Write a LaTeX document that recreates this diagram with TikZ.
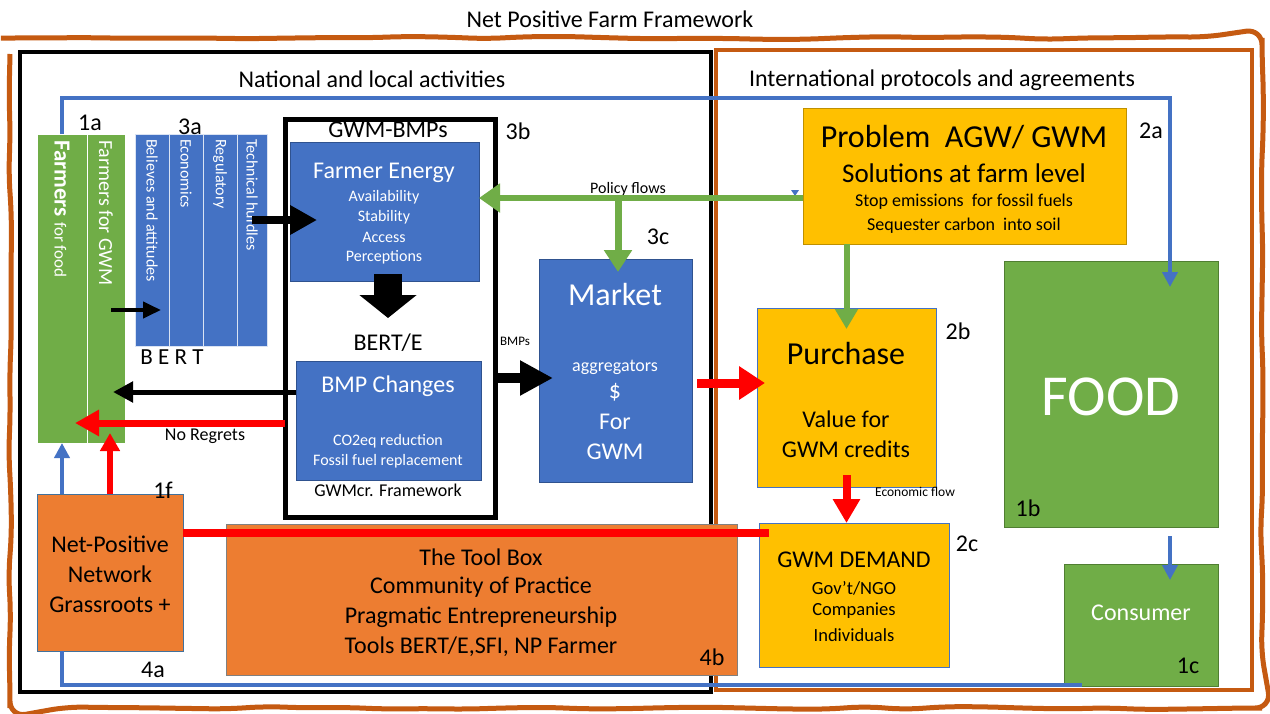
\documentclass[tikz,border=0pt]{standalone}
\usepackage{fontspec}
\setmainfont{Carlito}
\usetikzlibrary{arrows.meta,fit,decorations.pathmorphing,calc}

\definecolor{npblue}{HTML}{4472C4}
\definecolor{npblueedge}{HTML}{2F528F}
\definecolor{npgreen}{HTML}{70AD47}
\definecolor{npgreenedge}{HTML}{507E32}
\definecolor{nporange}{HTML}{ED7D31}
\definecolor{nporangeedge}{HTML}{41719C}
\definecolor{npbrown}{HTML}{C55A11}
\definecolor{npgold}{HTML}{FFC000}
\definecolor{npgoldedge}{HTML}{BF9000}
\definecolor{npred}{HTML}{FF0000}

\newcommand\npfs[1]{\fontsize{#1}{#1}\selectfont}

\tikzset{
  box/.style={inner sep=0pt, outer sep=0pt, line width=1pt},
  bluebox/.style={box, fill=npblue, draw=npblueedge},
  greenbox/.style={box, fill=npgreen, draw=npgreenedge},
  goldbox/.style={box, fill=npgold, draw=npgoldedge},
  goldbbox/.style={box, fill=npgold, draw=npblue},
  orangebox/.style={box, fill=nporange, draw=nporangeedge},
  toolbox/.style={box, fill=nporange, draw=gray},
  gcol/.style={box, fill=npgreen, draw=white},
  bcol/.style={box, fill=npblue, draw=white!80!npblue},
  frame/.style={box, draw=black, line width=4pt},
  txt/.style={inner sep=0pt, text=black},
  wtxt/.style={inner sep=0pt, text=white},
  vtxt/.style={inner sep=0pt, text=white, rotate=-90, anchor=west},
  tag/.style={inner sep=0pt, text=black, font=\npfs{24}},
  blkarrow/.style={draw=black, line width=5pt, -{Triangle[width=20pt,length=20pt]}},
  blkbig/.style={draw=black, line width=8pt, -{Triangle[width=28pt,length=27pt]}},
  blkmid/.style={draw=black, line width=10pt, -{Triangle[width=33pt,length=33pt]}},
  blkblock/.style={draw=black, line width=28pt, -{Triangle[width=56pt,length=23pt]}},
  redarrow/.style={draw=npred, line width=7pt, -{Triangle[width=25pt,length=24pt]}},
  redline/.style={draw=npred, line width=8pt},
  grnarrow/.style={draw=npgreen, line width=6pt, -{Triangle[width=28pt,length=21pt]}},
  bluarrow/.style={draw=npblue, line width=4pt, -{Triangle[width=15pt,length=15pt]}},
  bluline/.style={draw=npblue, line width=4pt},
}

\begin{document}
\begin{tikzpicture}[x=1pt, y=-1pt]
\useasboundingbox (0,0) rectangle (1270,713);
\fill[white] (0,0) rectangle (1270,713);

% hand-drawn outer border
\pgfmathsetseed{42}
\draw[npbrown, line width=5pt, decorate,
      decoration={random steps, segment length=40pt, amplitude=1.6pt},
      rounded corners=16pt] (10,38) rectangle (1262,708);

\node[txt, font=\npfs{24}] (title) at (610,19) {Net Positive Farm Framework};

% national and international areas
\node (intl) [box, draw=npbrown, line width=4pt, fit={(716,50) (1252,690)}] {};
\node (nat) [frame, fit={(20,52) (711,692)}] {};
\node[txt, font=\npfs{24}] (natlbl) at (372,79) {National and local activities};
\node[txt, font=\npfs{24}] (intllbl) at (942,80) {International protocols and agreements};

% farmers columns
\node (ff) [gcol, fit={(37,134) (87,443)}] {};
\node (fg) [gcol, fit={(87,134) (125,443)}] {};
\node[vtxt] (fftxt) at (62,140) {\npfs{23}\bfseries Farmers \mdseries\npfs{17}for food};
\node[vtxt, font=\npfs{20}] (fgtxt) at (106,140) {Farmers for GWM};
\node[tag] (l1a) at (90,123) {1a};

% BERT columns
\node (b1) [bcol, fit={(135,134) (169,346)}] {};
\node (b2) [bcol, fit={(169,134) (203,346)}] {};
\node (b3) [bcol, fit={(203,134) (237,346)}] {};
\node (b4) [bcol, fit={(237,134) (267,346)}] {};
\node[vtxt, font=\npfs{16}] (b1t) at (152,139) {Believes and attitudes};
\node[vtxt, font=\npfs{16}] (b2t) at (186,139) {Economics};
\node[vtxt, font=\npfs{16}] (b3t) at (220,139) {Regulatory};
\node[vtxt, font=\npfs{16}] (b4t) at (252,139) {Technical hurdles};
\node[tag] (l3a) at (190,127) {3a};
\node[txt, font=\npfs{23}] (bertlbl) at (172,357) {B E R T};

% GWM-BMPs frame
\node (gwm) [box, draw=black, line width=5pt, fit={(285,119) (495,517)}] {};
\node[txt, font=\npfs{24}] (gwmlbl) at (388,130) {GWM-BMPs};
\node[tag] (l3b) at (518,131) {3b};

\node (fe) [bluebox, fit={(290,142) (479,281)}] {};
\node[wtxt, font=\npfs{24}] (fet) at (384,173) {Farmer Energy};
\node[wtxt, font=\npfs{16}] (fe1) at (384,197) {Availability};
\node[wtxt, font=\npfs{16}] (fe2) at (384,217) {Stability};
\node[wtxt, font=\npfs{16}] (fe3) at (384,237) {Access};
\node[wtxt, font=\npfs{16}] (fe4) at (384,257) {Perceptions};

\node[txt, font=\npfs{24}] (bertE) at (388,343) {BERT/E};

\node (bmp) [bluebox, fit={(296,361) (481,480)}] {};
\node[wtxt, font=\npfs{24}] (bmpt) at (388,386) {BMP Changes};
\node[wtxt, font=\npfs{16}] (bmp1) at (388,441) {CO2eq reduction};
\node[wtxt, font=\npfs{16}] (bmp2) at (388,461) {Fossil fuel replacement};
\node[txt, font=\npfs{18}] (gwmcr) at (388,490) {GWMcr. Framework};

% market
\node (mk) [bluebox, fit={(539,259) (692,482)}] {};
\node[wtxt, font=\npfs{32}] (mkt) at (615,295) {Market};
\node[wtxt, font=\npfs{18}] (mk1) at (615,367) {aggregators};
\node[wtxt, font=\npfs{24}] (mk2) at (615,392) {\$};
\node[wtxt, font=\npfs{24}] (mk3) at (615,422) {For};
\node[wtxt, font=\npfs{24}] (mk4) at (615,452) {GWM};
\node[tag] (l3c) at (658,237) {3c};
\node[txt, font=\npfs{13}] (bmplbl) at (515,341) {BMPs};
\node[txt, font=\npfs{16}] (pollbl) at (628,189) {Policy flows};

% net-positive network
\node (np) [orangebox, fit={(37,494) (183,651)}] {};
\node[txt, font=\npfs{24}, align=center] (npt) at (110,574) {Net-Positive\\[6pt]Network\\[6pt]Grassroots +};
\node[tag] (l1f) at (163,490) {1f};
\node[tag] (l4a) at (153,670) {4a};
\node[txt, font=\npfs{18}] (noreg) at (205,436) {No Regrets};

% tool box
\node (tb) [toolbox, fit={(226,524) (737,675)}] {};
\node[txt, font=\npfs{24}] (tb1) at (481,557) {The Tool Box};
\node[txt, font=\npfs{24}] (tb2) at (481,587) {Community of Practice};
\node[txt, font=\npfs{24}] (tb3) at (481,617) {Pragmatic Entrepreneurship};
\node[txt, font=\npfs{24}] (tb4) at (481,647) {Tools BERT/E,SFI, NP Farmer};
\node[tag] (l4b) at (712,657) {4b};

% problem statement
\node (pb) [goldbox, fit={(803,108) (1126,244)}] {};
\node[txt, font=\npfs{32}] (pb1) at (964,137) {Problem\ \ AGW/ GWM};
\node[txt, font=\npfs{27}] (pb2) at (964,173) {Solutions at farm level};
\node[txt, font=\npfs{18}] (pb3) at (964,202) {Stop emissions\ \ for fossil fuels};
\node[txt, font=\npfs{18}] (pb4) at (964,226) {Sequester carbon\ \ into soil};
\node[tag] (l2a) at (1151,131) {2a};
\fill[npblue] (791,190) -- (799,190) -- (795,196) -- cycle;

% purchase
\node (pu) [goldbbox, fit={(757,308) (936,487)}] {};
\node[txt, font=\npfs{32}] (put) at (846,354) {Purchase};
\node[txt, font=\npfs{24}] (pu1) at (846,419) {Value for};
\node[txt, font=\npfs{24}] (pu2) at (846,449) {GWM credits};
\node[tag] (l2b) at (958,331) {2b};
\node[txt, font=\npfs{13.5}] (econ) at (915,492) {Economic flow};

% demand
\node (gd) [goldbbox, fit={(759,523) (949,667)}] {};
\node[txt, font=\npfs{24}] (gdt) at (854,560) {GWM DEMAND};
\node[txt, font=\npfs{18.5}] (gd1) at (854,588) {Gov’t/NGO};
\node[txt, font=\npfs{18.5}] (gd2) at (854,611) {Companies};
\node[txt, font=\npfs{18.5}] (gd3) at (854,635) {Individuals};
\node[tag] (l2c) at (967,544) {2c};

% food and consumer
\node (food) [greenbox, fit={(1004,261) (1218,527)}] {};
\node[wtxt, font=\npfs{58}] (foodt) at (1111,397) {FOOD};
\node[tag] (l1b) at (1028,508) {1b};
\node (cs) [greenbox, fit={(1064,564) (1218,686)}] {};
\node[wtxt, font=\npfs{24}] (cst) at (1141,613) {Consumer};
\node[tag] (l1c) at (1188,666) {1c};

% connectors
\coordinate (foodin) at (1170,287);
\coordinate (consin) at (1082,685);
\coordinate (pol) at (618,198);
\coordinate (bertin) at (388,318);

\draw[bluarrow] (ff.north) |- (foodin |- 0,98) -- (foodin);
\draw[bluline] (ff.south |- np.south) |- (consin);
\draw[bluarrow] (ff.south |- np.north) -- (ff.south);
\draw[bluarrow, shorten <=9pt, shorten >=-16pt] (food.south -| foodin) -- (cs.north -| foodin);

\draw[redarrow, line width=6pt, -{Triangle[width=19pt,length=18pt]}, shorten >=-10pt] (np.north -| 110,0) -- (fg.south -| 110,0);
\draw[redline] ($(np.north east)+(0,39)$) -- ($(gd.north west)+(10,10)$);

\draw[blkarrow, line width=4pt, -{Triangle[width=16pt,length=18pt]}, shorten <=-14pt, shorten >=-26pt] (fg.east |- 0,310) -- (b1.west |- 0,310);
\draw[blkbig, shorten >=-27pt] (b4.center |- 0,220) -- (fe.west |- 0,220);
\draw[blkblock, shorten <=-7pt] (fe.south -| bertin) -- (bertin);
\draw[blkarrow, shorten >=-12pt] (bmp.west |- 0,392) -- (fg.east |- 0,392);
\draw[redarrow, shorten >=-12pt] (gwm.west |- 0,423) -- (ff.east |- 0,423);
\draw[blkmid, shorten >=-14pt] (gwm.east |- 0,378) -- (mk.west |- 0,378);

\draw[grnarrow] (pb.west |- pol) -- (fe.east |- pol);
\draw[grnarrow, line width=7pt, -{Triangle[width=27pt,length=22pt]}, shorten >=-13pt] (pol) -- (pol |- mk.north);
\draw[grnarrow, -{Triangle[width=22pt,length=20pt]}, shorten >=-21pt] (pu.north |- pb.south) -- (pu.north);

\draw[redarrow, line width=9pt, -{Triangle[width=32pt,length=26pt]}, shorten <=5pt, shorten >=-8pt] (mk.east |- 0,383) -- (pu.west |- 0,383);
\draw[redarrow, line width=8pt, -{Triangle[width=26pt,length=24pt]}, shorten <=-12pt] (pu.south) -- (pu.south |- gd.north);
\end{tikzpicture}
\end{document}
